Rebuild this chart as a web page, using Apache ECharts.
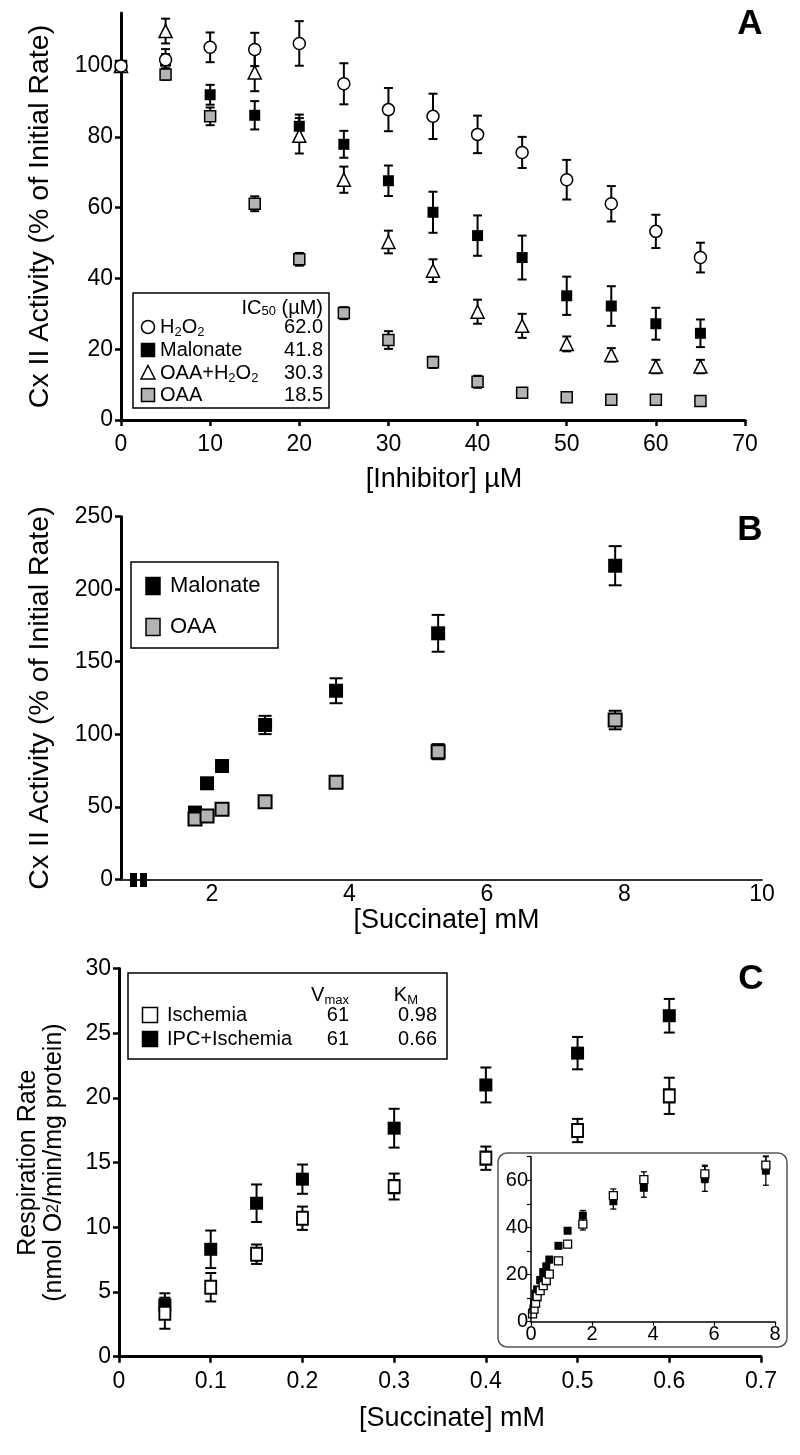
<!DOCTYPE html>
<html><head><meta charset="utf-8">
<script src="https://cdn.jsdelivr.net/npm/echarts@6/dist/echarts.min.js"></script>
<style>html,body{margin:0;padding:0;background:#fff}#c{width:800px;height:1455px}</style>
</head><body><div id="c"></div>
<script>
const FONT = 'Liberation Sans, Arial, sans-serif';

// ---------- Panel A ----------
const inhibitorConc = [0,5,10,15,20,25,30,35,40,45,50,55,60,65];
const h2o2Mean     = [100,101.8,105.3,104.7,106.4,95.0,87.7,85.8,80.7,75.6,67.9,61.1,53.3,45.9];
const h2o2Err      = [0,3,4.2,4.7,6.3,5.8,6.1,6.4,5.3,4.4,5.6,5.0,4.7,4.2];
const malonateAMean= [100,101.4,91.9,86.1,83.0,77.9,67.6,58.7,52.1,45.9,35.1,32.2,27.2,24.5];
const malonateAErr = [0,2,2.8,4,3.3,3.8,4.3,5.8,5.7,6.2,5.4,5.6,4.5,3.9];
const oaaH2o2Mean  = [100,109.9,null,98.2,80.3,67.9,50.3,42.2,30.6,26.6,21.5,18.4,15.1,15.1];
const oaaH2o2Err   = [0,3.5,null,5.3,5,3.7,3.2,3.2,3.4,3.4,2.1,1.9,1.9,1.9];
const oaaAMean     = [100,97.6,85.8,61.1,45.4,30.2,22.6,16.3,10.8,7.7,6.4,5.7,5.7,5.4];
const oaaAErr      = [0,1.5,2.5,2.1,1.8,1.7,2.5,1.6,1.7,1.3,0.8,0.5,0.5,0.5];
const aYTicks = [0,20,40,60,80,100];
const icLabels = ['62.0','41.8','30.3','18.5'];

// ---------- Panel B ----------
const succinateB     = [1.756,1.931,2.149,2.775,3.807,5.291,7.865];
const malonateBMean  = [46,66.2,78.1,106.4,130.0,169.6,216.2];
const malonateBErr   = [2,2.5,2.5,6.3,8.6,12.7,13.5];
const oaaBMean       = [41.6,43.6,48.3,53.5,66.9,88.0,109.8];
const oaaBErr        = [2,2,2,2,2,5.2,6.4];
const bXTicks = [2,4,6,8,10];

// ---------- Panel C ----------
const succinateC = [0.05,0.1,0.15,0.2,0.3,0.4,0.5,0.6];
const ischMean   = [3.36,5.37,7.92,10.7,13.15,15.34,17.48,20.16];
const ischErr    = [1.2,1.1,0.75,0.9,1.0,0.9,0.9,1.4];
const ipcMean    = [4.0,8.3,11.86,13.72,17.66,21.0,23.46,26.35];
const ipcErr     = [0.9,1.45,1.45,1.13,1.5,1.35,1.25,1.3];
const insetConc     = [0.9,1.2,1.7,2.7,3.7,5.7,7.7];
const insetIschMean = [25.8,32.9,41.4,53.5,60.3,62.7,66.4];
const insetIschErr  = [1,1.2,2.5,2.8,3.3,3.7,3.6];
const insetIpcMean  = [32.2,38.6,45.0,51.1,56.8,60.6,64.1];
const insetIpcErr   = [1,1.2,2.2,3.3,4,5.3,6.2];
const vmaxLabels = ['61','61'];
const kmLabels = ['0.98','0.66'];

// ---------- helpers ----------
function pts(xs, ys){ const o=[]; xs.forEach((x,i)=>{ if(ys[i]!=null) o.push([x,ys[i]]); }); return o; }
function errs(xs, ys, es){ const o=[]; xs.forEach((x,i)=>{ if(ys[i]!=null && es[i]) o.push([x,ys[i]-es[i],ys[i]+es[i]]); }); return o; }
function errRender(capW, lw){
  return function(params, api){
    const x=api.value(0), lo=api.value(1), hi=api.value(2);
    const p1=api.coord([x,hi]), p2=api.coord([x,lo]);
    const st={stroke:'#000', lineWidth:lw};
    return {type:'group', children:[
      {type:'line', shape:{x1:p1[0],y1:p1[1],x2:p2[0],y2:p2[1]}, style:st},
      {type:'line', shape:{x1:p1[0]-capW/2,y1:p1[1],x2:p1[0]+capW/2,y2:p1[1]}, style:st},
      {type:'line', shape:{x1:p2[0]-capW/2,y1:p2[1],x2:p2[0]+capW/2,y2:p2[1]}, style:st}
    ]};
  };
}
function errSeries(idx, data, capW, lw, z){
  return {type:'custom', xAxisIndex:idx, yAxisIndex:idx, renderItem:errRender(capW,lw), data:data,
          encode:{x:0,y:[1,2]}, z:z||2, silent:true, clip:false};
}
function scat(idx, data, symbol, size, fill, bw, z){
  return {type:'scatter', xAxisIndex:idx, yAxisIndex:idx, data:data, symbol:symbol, symbolSize:size,
          itemStyle:{color:fill, borderColor:'#000', borderWidth:bw, opacity:1}, z:z||3, silent:true};
}
function axis(grid, o){
  return Object.assign({type:'value', gridIndex:grid,
    axisLine:{show:true,onZero:false,lineStyle:{color:'#000',width:3}},
    axisTick:{show:true,length:6,lineStyle:{color:'#000',width:2.5}},
    axisLabel:{color:'#000',fontFamily:FONT,fontSize:23,margin:8},
    splitLine:{show:false},
    nameLocation:'middle',
    nameTextStyle:{color:'#000',fontFamily:FONT,fontSize:27}}, o);
}
const xLab = (m,extra)=>Object.assign({color:'#000',fontFamily:FONT,fontSize:23,margin:m},extra||{});
const xName = (pad)=>({color:'#000',fontFamily:FONT,fontSize:27,padding:[0,0,0,pad]});
const yName = {color:'#000',fontFamily:FONT,fontSize:28.5};

const sub = {n:{fontFamily:FONT,fontSize:20,lineHeight:24,verticalAlign:'middle',color:'#000'},
             s:{fontFamily:FONT,fontSize:13,lineHeight:12,verticalAlign:'bottom',color:'#000'}};
function txt(x,y,text,align,size,rich,weight){
  const st={text:text, fill:'#000', font:(weight?weight+' ':'')+(size||20)+'px '+FONT, align:align||'left', verticalAlign:'middle'};
  if(rich){ st.rich=rich; }
  return {type:'text', x:x, y:y, style:st, z:10};
}
function box(x1,y1,x2,y2,stroke,lw,r){
  return {type:'rect', shape:{x:x1,y:y1,width:x2-x1,height:y2-y1,r:r||0}, style:{fill:'#fff',stroke:stroke||'#000',lineWidth:lw||1.5}, z:5};
}
function rectM(cx,cy,w,h,fill){
  return {type:'rect', shape:{x:cx-w/2,y:cy-h/2,width:w,height:h}, style:{fill:fill,stroke:'#000',lineWidth:1.5}, z:10};
}

const chart = echarts.init(document.getElementById('c'), null, {renderer:'canvas'});
const subRich20 = {n:Object.assign({},sub.n), s:Object.assign({},sub.s)};

const option = {
  animation:false,
  backgroundColor:'#fff',
  grid:[
    {left:121, top:13, width:624, height:407},
    {left:121, top:516.7, width:641, height:362.6},
    {left:119, top:968.5, width:642, height:388.2},
    {left:531, top:1156.7, width:244, height:165, z:10}
  ],
  xAxis:[
    axis(0,{min:0,max:70,interval:10,name:'[Inhibitor] µM',nameGap:46,nameTextStyle:xName(22),axisLabel:xLab(13)}),
    axis(1,{min:0.68,max:10,name:'[Succinate] mM',nameGap:16,nameTextStyle:xName(10),
      axisLine:{show:true,onZero:false,lineStyle:{color:'#333',width:2}},
      axisTick:{show:false,customValues:bXTicks},
      axisLabel:xLab(4,{customValues:bXTicks})}),
    axis(2,{min:0,max:0.7,interval:0.1,name:'[Succinate] mM',nameGap:48,nameTextStyle:xName(24),
      axisLabel:xLab(13,{formatter:v=>v===0?'0':v.toFixed(1)})}),
    axis(3,{min:0,max:8,interval:2,z:20,
      axisLine:{show:true,onZero:false,lineStyle:{color:'#000',width:1.5}},
      axisTick:{show:true,length:4,lineStyle:{color:'#000',width:1.2}},
      axisLabel:{color:'#000',fontFamily:FONT,fontSize:20,margin:3}})
  ],
  yAxis:[
    axis(0,{min:0,max:115,name:'Cx II Activity (% of Initial Rate)',nameGap:66,nameTextStyle:yName,
      axisTick:{show:true,length:6,lineStyle:{color:'#000',width:2.5},customValues:aYTicks},
      axisLabel:{color:'#000',fontFamily:FONT,fontSize:23,margin:8,customValues:aYTicks}}),
    axis(1,{min:0,max:250,interval:50,name:'Cx II Activity (% of Initial Rate)',nameGap:66,nameTextStyle:yName}),
    axis(2,{min:0,max:30,interval:5,nameGap:52,
      name:'Respiration Rate\n(nmol O{s|2}/min/mg protein)',
      nameTextStyle:{color:'#000',fontFamily:FONT,fontSize:25,lineHeight:26,
        rich:{s:{fontFamily:FONT,fontSize:16,color:'#000'}}}}),
    axis(3,{min:0,max:70,interval:10,z:20,
      axisLine:{show:true,onZero:false,lineStyle:{color:'#000',width:1.5}},
      axisTick:{show:true,length:4,lineStyle:{color:'#000',width:1.2}},
      axisLabel:{color:'#000',fontFamily:FONT,fontSize:20,margin:3,formatter:v=>(v%20===0?String(v):'')}})
  ],
  series:[
    // A
    errSeries(0, errs(inhibitorConc,h2o2Mean,h2o2Err), 9, 2),
    errSeries(0, errs(inhibitorConc,malonateAMean,malonateAErr), 9, 2),
    errSeries(0, errs(inhibitorConc,oaaH2o2Mean,oaaH2o2Err), 9, 2),
    errSeries(0, errs(inhibitorConc,oaaAMean,oaaAErr), 9, 2),
    scat(0, pts(inhibitorConc,oaaAMean), 'rect', 11, '#b3b3b3', 1.5),
    scat(0, pts(inhibitorConc,malonateAMean), 'rect', 11, '#000', 0),
    scat(0, pts(inhibitorConc,oaaH2o2Mean), 'triangle', 13, '#fff', 1.5),
    scat(0, pts(inhibitorConc,h2o2Mean), 'circle', 12, '#fff', 1.5),
    // B
    errSeries(1, errs(succinateB,malonateBMean,malonateBErr), 13, 2),
    errSeries(1, errs(succinateB,oaaBMean,oaaBErr), 13, 2),
    scat(1, pts(succinateB,malonateBMean), 'rect', 14, '#000', 0),
    scat(1, pts(succinateB,oaaBMean), 'rect', 13, '#b3b3b3', 2),
    // C
    errSeries(2, errs(succinateC,ipcMean,ipcErr), 11, 2),
    errSeries(2, errs(succinateC,ischMean,ischErr), 11, 2),
    scat(2, pts(succinateC,ipcMean), 'rect', 13, '#000', 0),
    scat(2, pts(succinateC,ischMean), 'rect', [11,13], '#fff', 2),
    // inset
    errSeries(3, errs(insetConc,insetIpcMean,insetIpcErr).concat(errs(succinateC,ipcMean,ipcErr)), 6, 1.3, 12),
    errSeries(3, errs(insetConc,insetIschMean,insetIschErr).concat(errs(succinateC,ischMean,ischErr)), 6, 1.3, 12),
    scat(3, pts(succinateC,ipcMean).concat(pts(insetConc,insetIpcMean)), 'rect', 8, '#000', 0, 13),
    scat(3, pts(succinateC,ischMean).concat(pts(insetConc,insetIschMean)), 'rect', 8, '#fff', 1.3, 14)
  ],
  graphic:[
    // panel letters
    txt(750,24,'A','center',35,null,'bold'), txt(750,530,'B','center',35,null,'bold'), txt(751,979,'C','center',35,null,'bold'),
    // legend A
    box(133,293,329,408),
    txt(323,308,'IC{s|50} (µM)','right',20,subRich20),
    {type:'circle', shape:{cx:148,cy:327,r:6.5}, style:{fill:'#fff',stroke:'#000',lineWidth:1.5}, z:10},
    txt(160,327,'{n|H}{s|2}{n|O}{s|2}','left',20,subRich20),
    txt(323,327,icLabels[0],'right',20),
    rectM(148,350,13,13,'#000'),
    txt(160,350,'Malonate','left',20),
    txt(323,350,icLabels[1],'right',20),
    {type:'polygon', shape:{points:[[148,365.5],[155,379],[141,379]]}, style:{fill:'#fff',stroke:'#000',lineWidth:1.5}, z:10},
    txt(160,373,'{n|OAA+H}{s|2}{n|O}{s|2}','left',20,subRich20),
    txt(323,373,icLabels[2],'right',20),
    rectM(148,395,13,13,'#b3b3b3'),
    txt(160,395,'OAA','left',20),
    txt(323,395,icLabels[3],'right',20),
    // legend B
    box(131,562,278,648),
    rectM(153,586,14,17,'#000'),
    txt(170,586,'Malonate','left',22),
    rectM(153,627,14,17,'#b3b3b3'),
    txt(170,627,'OAA','left',22),
    // axis break marks (B)
    {type:'rect', shape:{x:130,y:873,width:7,height:14}, style:{fill:'#000'}, z:10},
    {type:'rect', shape:{x:140,y:873,width:7,height:14}, style:{fill:'#000'}, z:10},
    // legend C
    box(128,973,447,1059),
    txt(349,995,'{n|V}{s|max}','right',20,subRich20),
    txt(418,995,'{n|K}{s|M}','right',20,subRich20),
    rectM(150,1015,15,15,'#fff'),
    txt(167,1015,'Ischemia','left',20),
    txt(349,1015,vmaxLabels[0],'right',20),
    txt(437,1015,kmLabels[0],'right',20),
    rectM(150,1039,15,15,'#000'),
    txt(167,1039,'IPC+Ischemia','left',20),
    txt(349,1039,vmaxLabels[1],'right',20),
    txt(437,1039,kmLabels[1],'right',20),
    // inset frame
    {type:'rect', shape:{x:498,y:1153,width:289,height:194,r:9}, style:{fill:'#fff',stroke:'#555',lineWidth:1.5}, z:-1, zlevel:0}
  ]
};
chart.setOption(option);
</script></body></html>
